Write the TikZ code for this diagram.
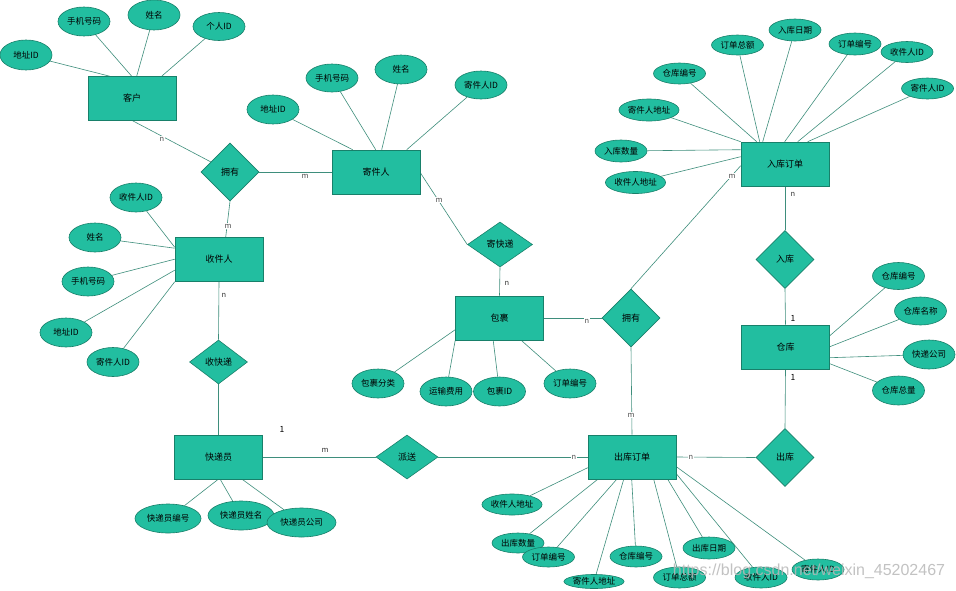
\documentclass[tikz,border=0pt]{standalone}
\usepackage{fontspec}
\newfontfamily\cjk{Noto Sans CJK SC}
\newfontfamily\wmfont{Liberation Sans}
\usetikzlibrary{shapes.geometric}
\definecolor{tfill}{RGB}{34,190,160}
\definecolor{tdraw}{RGB}{24,128,106}
\definecolor{tline}{RGB}{62,142,124}
\pgfdeclarelayer{lines}
\pgfsetlayers{lines,main}
\begin{document}
\begin{tikzpicture}[x=1pt,y=-1pt,
  every node/.style={font=\cjk\fontsize{8.5}{10}\selectfont, inner sep=0pt},
  ent/.style={rectangle, draw=tdraw, fill=tfill, minimum width=88pt, minimum height=44pt, line width=0.6pt, font=\cjk\fontsize{9}{10}\selectfont},
  rel/.style={diamond, draw=tdraw, fill=tfill, minimum width=58pt, minimum height=58pt, line width=0.6pt, font=\cjk\fontsize{9}{10}\selectfont},
  attr/.style={ellipse, draw=tdraw, fill=tfill, minimum width=52pt, minimum height=28pt, line width=0.6pt},
  ln/.style={draw=tline, line width=0.6pt},
  lbl/.style={fill=white, inner sep=0.8pt, text=black!70, font=\cjk\fontsize{7.5}{8}\selectfont},
  lblo/.style={inner sep=0.8pt, text=black!80, font=\cjk\fontsize{7.5}{8}\selectfont},
  onelbl/.style={inner sep=0.8pt, text=black, font=\cjk\fontsize{8.5}{9}\selectfont}
]
\useasboundingbox (0,0) rectangle (956,590);

% entities
\node[ent] (kh) at (132,98.5) {客户};
\node[ent] (jj) at (376,172) {寄件人};
\node[ent] (sj) at (219,259.5) {收件人};
\node[ent] (bg) at (499.5,318) {包裹};
\node[ent] (rk) at (785,164) {入库订单};
\node[ent] (ck) at (785.5,347) {仓库};
\node[ent] (kd) at (218.5,457) {快递员};
\node[ent] (co) at (632,457) {出库订单};

% relationships
\node[rel] (yy1) at (230,172) {拥有};
\node[rel, minimum width=65pt, minimum height=45pt] (jkd) at (500,244.5) {寄快递};
\node[rel, minimum width=58pt, minimum height=44pt] (skd) at (218.5,362) {收快递};
\node[rel] (yy2) at (631,318) {拥有};
\node[rel] (rku) at (785,259.5) {入库};
\node[rel] (cku) at (785,457.5) {出库};
\node[rel, minimum width=62pt, minimum height=44pt] (ps) at (407,457) {派送};

% customer attributes
\node[attr, minimum height=30pt] (a1) at (26,55) {地址ID};
\node[attr, minimum height=29pt] (a2) at (84,21.5) {手机号码};
\node[attr, minimum height=30pt] (a3) at (154,15) {姓名};
\node[attr, minimum height=28pt] (a4) at (219,26.5) {个人ID};

% sender attributes
\node[attr, minimum height=29pt] (b1) at (273,109.5) {地址ID};
\node[attr, minimum height=28pt] (b2) at (332,78) {手机号码};
\node[attr, minimum height=29pt] (b3) at (401,69.5) {姓名};
\node[attr, minimum height=28pt] (b4) at (481,85) {寄件人ID};

% receiver attributes
\node[attr, minimum height=29pt] (c1) at (136,197.5) {收件人ID};
\node[attr, minimum height=29pt] (c2) at (95,237.5) {姓名};
\node[attr, minimum height=29pt] (c3) at (88,281.5) {手机号码};
\node[attr, minimum height=29pt] (c4) at (66,332.5) {地址ID};
\node[attr, minimum height=29pt] (c5) at (113,362) {寄件人ID};

% parcel attributes
\node[attr, minimum height=29pt] (d1) at (378,383.5) {包裹分类};
\node[attr, minimum height=29pt] (d2) at (446,391.5) {运输费用};
\node[attr, minimum height=29pt] (d3) at (499.5,391.5) {包裹ID};
\node[attr, minimum height=29pt] (d4) at (570,383.5) {订单编号};

% inbound order attributes
\node[attr, minimum height=22pt] (e1) at (795,30) {入库日期};
\node[attr, minimum height=20pt] (e2) at (737.5,45) {订单总额};
\node[attr, minimum height=22pt] (e3) at (855,44) {订单编号};
\node[attr, minimum height=21pt] (e4) at (907,52) {收件人ID};
\node[attr, minimum height=21pt] (e5) at (679.5,73.5) {仓库编号};
\node[attr, minimum height=21pt] (e6) at (927.5,88.5) {寄件人ID};
\node[attr, minimum height=22pt] (e7) at (649,110) {寄件人地址};
\node[attr, minimum height=22pt] (e8) at (621,151) {入库数量};
\node[attr, minimum height=22pt] (e9) at (635.5,182.5) {收件人地址};

% warehouse attributes
\node[attr, minimum height=27pt] (f1) at (898.5,276) {仓库编号};
\node[attr, minimum height=28pt] (f2) at (920.5,311) {仓库名称};
\node[attr, minimum height=29pt] (f3) at (929,354.5) {快递公司};
\node[attr, minimum height=29pt] (f4) at (898.5,390.5) {仓库总量};

% courier attributes
\node[attr, minimum width=66pt, minimum height=29pt] (g1) at (168,518.5) {快递员编号};
\node[attr, minimum width=66pt, minimum height=29pt] (g2) at (241,515.5) {快递员姓名};
\node[attr, minimum width=69pt, minimum height=29pt] (g3) at (301.5,522.5) {快递员公司};

% outbound order attributes
\node[attr, minimum height=21pt] (h1) at (512,504.5) {收件人地址};
\node[attr, minimum height=20pt] (h2) at (518,543) {出库数量};
\node[attr, minimum height=20pt] (h3) at (548.5,557) {订单编号};
\node[attr, minimum height=21pt] (h4) at (636,556.5) {仓库编号};
\node[attr, minimum width=60pt, minimum height=14pt] (h5) at (594,581.5) {寄件人地址};
\node[attr, minimum height=22pt] (h6) at (709,548) {出库日期};
\node[attr, minimum height=21pt] (h7) at (679.5,577.5) {订单总额};
\node[attr, minimum height=21pt] (h8) at (761,577.5) {收件人ID};
\node[attr, minimum height=21pt] (h9) at (818,569.5) {寄件人ID};

\begin{pgfonlayer}{lines}
\fill[white] (0,0) rectangle (956,590);
% customer
\draw[ln] (a1) -- ([xshift=22pt]kh.north west);
\draw[ln] (a2) -- ([xshift=44pt]kh.north west);
\draw[ln] (a3) -- ([xshift=49pt]kh.north west);
\draw[ln] (a4) -- ([xshift=74pt]kh.north west);
% sender
\draw[ln] (b1) -- ([xshift=21pt]jj.north west);
\draw[ln] (b2) -- ([xshift=44pt]jj.north west);
\draw[ln] (b3) -- ([xshift=50pt]jj.north west);
\draw[ln] (b4) -- ([xshift=75pt]jj.north west);
% receiver
\draw[ln] (c1) -- ([yshift=-10pt]sj.north west);
\draw[ln] (c2) -- ([yshift=-11pt]sj.north west);
\draw[ln] (c3) -- ([yshift=-22pt]sj.north west);
\draw[ln] (c4) -- ([yshift=-33pt]sj.north west);
\draw[ln] (c5) -- (sj.south west);
% parcel
\draw[ln] (d1) -- ([yshift=-34pt]bg.north west);
\draw[ln] (d2) -- (bg.south west);
\draw[ln] (d3) -- ([xshift=38pt]bg.south west);
\draw[ln] (d4) -- ([xshift=66pt]bg.south west);
% inbound order
\draw[ln] (e1) -- ([xshift=22pt]rk.north west);
\draw[ln] (e2) -- ([xshift=19pt]rk.north west);
\draw[ln] (e3) -- ([xshift=44pt]rk.north west);
\draw[ln] (e4) -- ([xshift=57pt]rk.north west);
\draw[ln] (e5) -- ([xshift=16pt]rk.north west);
\draw[ln] (e6) -- ([xshift=67pt]rk.north west);
\draw[ln] (e7) -- (rk.north west);
\draw[ln] (e8) -- ([yshift=-8pt]rk.north west);
\draw[ln] (e9) -- ([yshift=-15pt]rk.north west);
% warehouse
\draw[ln] (f1) -- ([yshift=-11pt]ck.north east);
\draw[ln] (f2) -- ([yshift=-22pt]ck.north east);
\draw[ln] (f3) -- ([yshift=-33pt]ck.north east);
\draw[ln] (f4) -- ([yshift=-39pt]ck.north east);
% courier
\draw[ln] (g1) -- ([xshift=44pt]kd.south west);
\draw[ln] (g2) -- ([xshift=46pt]kd.south west);
\draw[ln] (g3) -- ([xshift=68pt]kd.south west);
% outbound order
\draw[ln] (h1) -- ([yshift=-33pt]co.north west);
\draw[ln] (h2) -- ([xshift=10pt]co.south west);
\draw[ln] (h3) -- ([xshift=29pt]co.south west);
\draw[ln] (h4) -- ([xshift=44pt]co.south west);
\draw[ln] (h5) -- ([xshift=36pt]co.south west);
\draw[ln] (h6) -- ([xshift=80pt]co.south west);
\draw[ln] (h7) -- ([xshift=66pt]co.south west);
\draw[ln] (h8) -- ([yshift=-39pt]co.north east);
\draw[ln] (h9) -- ([yshift=-32pt]co.north east);
% relationships
\draw[ln] ([xshift=45pt]kh.south west) -- (yy1);
\draw[ln] (yy1.east) -- (jj.west);
\draw[ln] (yy1.south) -- ([xshift=51pt]sj.north west);
\draw[ln] ([yshift=-23pt]jj.north east) -- (jkd.west);
\draw[ln] (jkd.south) -- (bg.north);
\draw[ln] (bg.east) -- (yy2.west);
\draw[ln] (yy2.north) -- ([yshift=-24pt]rk.north west);
\draw[ln] (yy2.south) -- (co.north);
\draw[ln] (rk.south) -- (rku.north);
\draw[ln] (rku.south) -- (ck.north);
\draw[ln] (ck.south) -- (cku.north);
\draw[ln] (cku.west) -- (co.east);
\draw[ln] (co.west) -- (ps.east);
\draw[ln] (ps.west) -- (kd.east);
\draw[ln] (sj.south) -- (skd.north);
\draw[ln] (skd.south) -- (kd.north);
\end{pgfonlayer}

% cardinality labels
\node[lbl] (l1) at (162,139) {n};
\node[lbl] (l2) at (305,176) {m};
\node[lbl] (l3) at (228,226) {m};
\node[lbl] (l4) at (439,200) {m};
\node[lblo] (l5) at (507,283) {n};
\node[lbl] (l6) at (587,321) {n};
\node[lbl] (l7) at (732,176) {m};
\node[lbl] (l8) at (631,415) {m};
\node[lblo] (l9) at (793,194) {n};
\node[onelbl] (l10) at (793,318) {1};
\node[onelbl] (l11) at (793,377) {1};
\node[lbl] (l12) at (691,457) {n};
\node[lbl] (l13) at (574,457) {n};
\node[lblo] (l14) at (325,450) {m};
\node[lblo] (l15) at (224,295) {n};
\node[onelbl] (l16) at (282,429) {1};

% watermark
\node[font=\wmfont\fontsize{16}{18}\selectfont, text=black!28, opacity=0.85] (wm) at (809,571) {https://blog.csdn.net/weixin\_45202467};
\end{tikzpicture}
\end{document}
